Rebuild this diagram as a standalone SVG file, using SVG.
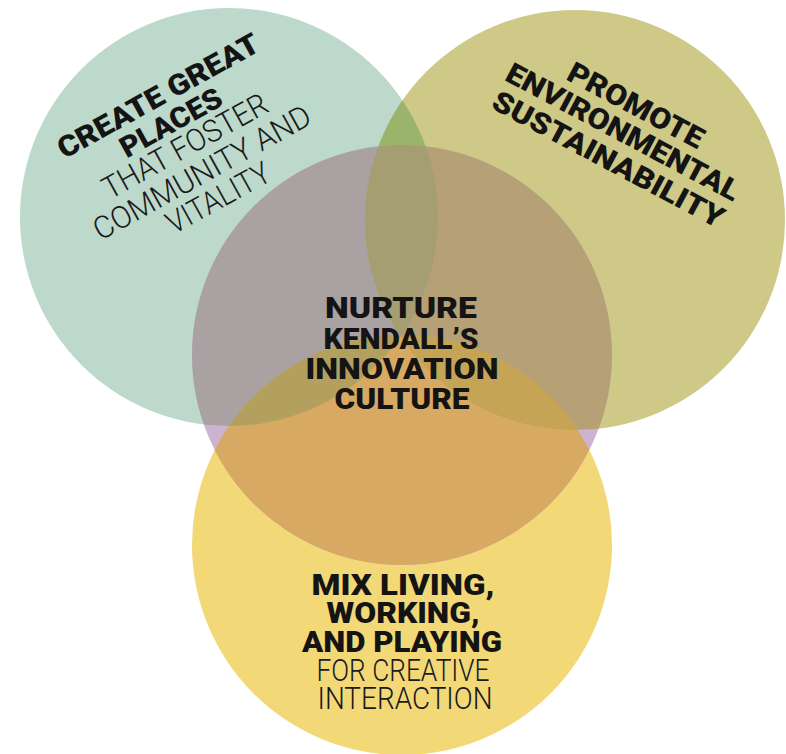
<svg xmlns="http://www.w3.org/2000/svg" width="786" height="754" viewBox="0 0 786 754">
<defs>
<clipPath id="clipT"><circle cx="229" cy="217" r="209"/></clipPath>
<clipPath id="clipO"><circle cx="575" cy="220" r="210"/></clipPath>
<clipPath id="clipC"><circle cx="402" cy="355" r="210"/></clipPath>
<style>
.b{font-family:Roboto,"Open Sans","Liberation Sans",sans-serif;font-weight:900;font-size:29px;fill:#141414;text-anchor:middle}
.l{font-family:Roboto,"Open Sans","Liberation Sans",sans-serif;font-weight:300;font-size:31px;fill:#1a1a1a;text-anchor:middle}
</style>
</defs>
<rect width="786" height="754" fill="#ffffff"/>
<g id="node-places">
<circle cx="229" cy="217" r="209" fill="#bdd9cc"/>
<g transform="rotate(-29)">
<text class="b" x="92" y="170.5" textLength="226" lengthAdjust="spacingAndGlyphs">CREATE GREAT</text>
<text class="b" x="90" y="200" textLength="112" lengthAdjust="spacingAndGlyphs">PLACES</text>
<text class="l" x="91" y="228" textLength="184" lengthAdjust="spacingAndGlyphs">THAT FOSTER</text>
<text class="l" x="93" y="259.5" textLength="244" lengthAdjust="spacingAndGlyphs">COMMUNITY AND</text>
<text class="l" x="95" y="289.5" textLength="114" lengthAdjust="spacingAndGlyphs">VITALITY</text>
</g>
</g>
<g id="node-environment">
<circle cx="575" cy="220" r="210" fill="#cec986"/>
<g transform="rotate(28)">
<text class="b" x="611" y="-195.5" textLength="150" lengthAdjust="spacingAndGlyphs">PROMOTE</text>
<text class="b" x="612" y="-166" textLength="260" lengthAdjust="spacingAndGlyphs">ENVIRONMENTAL</text>
<text class="b" x="612" y="-135" textLength="258" lengthAdjust="spacingAndGlyphs">SUSTAINABILITY</text>
</g>
</g>
<g id="node-mix">
<circle cx="402" cy="545" r="210" fill="#f3d878"/>
<text class="b" x="403" y="595" textLength="183" lengthAdjust="spacingAndGlyphs">MIX LIVING,</text>
<text class="b" x="403" y="623" textLength="153" lengthAdjust="spacingAndGlyphs">WORKING,</text>
<text class="b" x="402" y="652" textLength="200" lengthAdjust="spacingAndGlyphs">AND PLAYING</text>
<text class="l" x="403" y="680.5" textLength="173" lengthAdjust="spacingAndGlyphs">FOR CREATIVE</text>
<text class="l" x="405" y="708.5" textLength="175" lengthAdjust="spacingAndGlyphs">INTERACTION</text>
</g>
<g id="overlaps">
<g clip-path="url(#clipT)">
<circle cx="575" cy="220" r="210" fill="#9bb46c"/>
</g>
</g>
<g id="node-innovation">
<circle cx="402" cy="355" r="210" fill="#ccb3cf"/>
<g clip-path="url(#clipC)">
<circle cx="229" cy="217" r="209" fill="#aaa1a3"/>
<circle cx="575" cy="220" r="210" fill="#b6a076"/>
<circle cx="402" cy="545" r="210" fill="#d7a962"/>
<g clip-path="url(#clipT)">
<circle cx="575" cy="220" r="210" fill="#a49e72"/>
<circle cx="402" cy="545" r="210" fill="#b3a05e"/>
</g>
<g clip-path="url(#clipO)">
<circle cx="402" cy="545" r="210" fill="#c6a456"/>
</g>
</g>
<text class="b" x="401" y="318" textLength="152" lengthAdjust="spacingAndGlyphs">NURTURE</text>
<text class="b" x="401" y="348.5" textLength="155" lengthAdjust="spacingAndGlyphs">KENDALL’S</text>
<text class="b" x="402" y="379" textLength="193" lengthAdjust="spacingAndGlyphs">INNOVATION</text>
<text class="b" x="402" y="408.5" textLength="135" lengthAdjust="spacingAndGlyphs">CULTURE</text>
</g>
</svg>
